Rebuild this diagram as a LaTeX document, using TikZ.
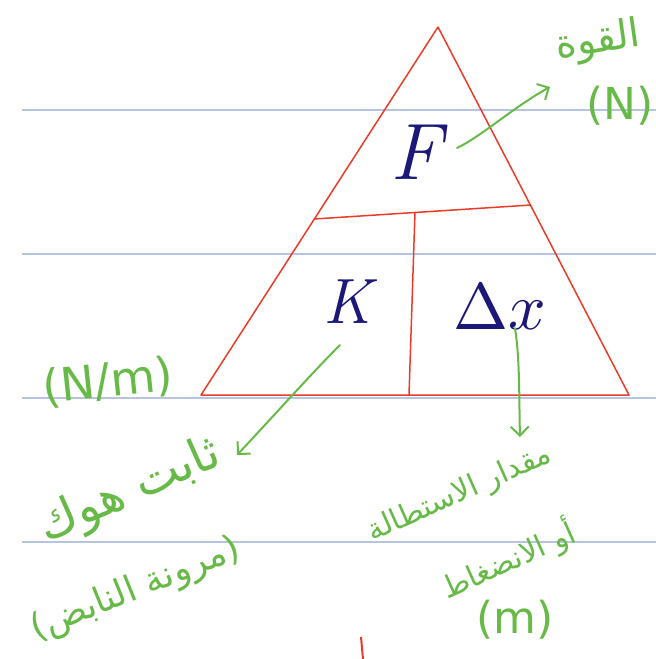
\documentclass[tikz,border=0pt]{standalone}
\usepackage{fontspec}
\usetikzlibrary{arrows.meta}
\TeXXeTstate=1
\newfontfamily\arabicfont[Script=Arabic]{DejaVu Sans}
\newfontfamily\latinhand{DejaVu Sans}
\definecolor{ruleblue}{RGB}{182,196,222}
\definecolor{penred}{RGB}{234,58,40}
\definecolor{pengreen}{RGB}{104,186,72}
\definecolor{pennavy}{RGB}{28,24,120}
\tikzset{
  ruleline/.style={draw=ruleblue, line width=1.3pt},
  redline/.style={draw=penred, line width=1.5pt, line join=round},
  garrow/.style={draw=pengreen, line width=2pt, line cap=round, -{Straight Barb[length=9pt,width=18pt,line width=2pt]}},
  glabel/.style={text=pengreen, inner sep=0pt},
  symb/.style={text=pennavy, inner sep=0pt},
}
\begin{document}
\begin{tikzpicture}[x=1pt,y=-1pt]
\useasboundingbox (0,0) rectangle (656,659);
% ruled lines
\foreach \yy in {110,254,398,542} \draw[ruleline] (22,\yy) -- (656,\yy);
% triangle
\coordinate (apex) at (438,27);
\coordinate (bl) at (201,395);
\coordinate (br) at (629,395);
\coordinate (ml) at (314,219);
\coordinate (mr) at (531,205);
\coordinate (vt) at (415,212);
\coordinate (vb) at (409,395);
\draw[redline] (apex) -- (br) -- (bl) -- cycle;
\draw[redline] (ml) -- (mr);
\draw[redline] (vt) -- (vb);
% red tick at bottom
\coordinate (tickA) at (361,637);
\coordinate (tickB) at (363,659);
\draw[draw=penred, line width=2pt] (tickA) -- (tickB);
% symbols
\node[symb, font=\fontsize{80}{80}\selectfont\itshape] (F) at (416,152) {F};
\node[symb, font=\fontsize{64}{64}\selectfont\itshape] (K) at (348,302) {K};
\node[symb, scale=6.6] (dx) at (500,307) {$\Delta x$};
% green labels
\node[glabel, font=\arabicfont\fontsize{40}{40}\selectfont, rotate=8] (quwwa) at (598,42) {\beginR القوة\endR};
\node[glabel, font=\latinhand\fontsize{44}{44}\selectfont] (Nunit) at (620,106) {(N)};
\node[glabel, font=\latinhand\fontsize{46}{46}\selectfont, rotate=6] (Nm) at (108,382) {(N/m)};
\node[glabel, font=\arabicfont\fontsize{48}{48}\selectfont, rotate=24] (hooke) at (130,492) {\beginR ثابت هوك\endR};
\node[glabel, font=\arabicfont\fontsize{36}{36}\selectfont, rotate=22] (spring) at (136,590) {\beginR (مرونة النابض)\endR};
\node[glabel, font=\arabicfont\fontsize{30}{30}\selectfont, rotate=24] (ext) at (460,494) {\beginR مقدار الاستطالة\endR};
\node[glabel, font=\arabicfont\fontsize{30}{30}\selectfont, rotate=24] (comp) at (508,560) {\beginR أو الانضغاط\endR};
\node[glabel, font=\latinhand\fontsize{44}{44}\selectfont] (mUnit) at (515,620) {(m)};
% arrows
\coordinate (fa) at (457,148);
\coordinate (fb) at (550,87);
\coordinate (ka) at (340,345);
\coordinate (kb) at (237,455);
\coordinate (da) at (515,328);
\coordinate (db) at (520,437);
\draw[garrow] (fa) .. controls (482,136) and (515,106) .. (fb);
\draw[garrow] (ka) .. controls (310,375) and (270,420) .. (kb);
\draw[garrow] (da) .. controls (520,360) and (519,400) .. (db);
\end{tikzpicture}
\end{document}
